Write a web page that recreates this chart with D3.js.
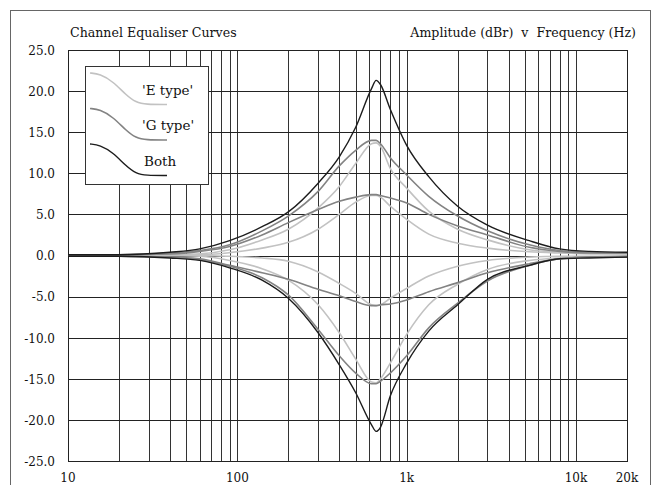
<!DOCTYPE html>
<html lang="en">
<head>
<meta charset="utf-8">
<script src="https://d3js.org/d3.v7.min.js"></script>
<style type="text/css">

body {
	margin: 0;
	background-color: #ffffff;
}

svg text {
	font-family: "DejaVu Serif", "Liberation Serif", serif;
	fill: #111;
}

</style>
</head>
<body>
<script type="text/javascript">

var width = 657;
var height = 485;

// frequencies (Hz) the curves were read at
var freq = [10, 20, 40, 60, 90, 140, 200, 300, 400, 500, 620, 660, 700, 800, 1000, 1350, 2000, 3000, 5300, 8000, 12000, 20000];

// amplitude (dBr) per curve
var eUpHi = [0, 0, 0.1, 0.2, 0.7, 1.9, 3.2, 5.8, 8.4, 11.2, 13.6, 13.7, 13.3, 10.6, 8.2, 5.4, 3.2, 1.9, 0.7, 0.4, 0.3, 0.2];
var eUpLo = [0, 0, 0.1, 0.1, 0.35, 0.9, 1.6, 3.2, 5.0, 6.5, 7.3, 7.3, 7.1, 6.0, 4.4, 2.6, 1.5, 0.9, 0.45, 0.3, 0.2, 0.2];
var eDnHi = [0, 0, 0, -0.1, -0.6, -1.6, -3.0, -6.0, -9.4, -12.6, -15.4, -15.5, -15.0, -13.1, -9.6, -6.0, -3.5, -1.7, -0.6, -0.3, -0.2, -0.1];
var eDnLo = [0, 0, 0, 0, -0.1, -0.3, -0.7, -2.0, -3.4, -4.6, -6.0, -6.1, -6.0, -5.2, -4.0, -2.5, -1.3, -0.6, -0.2, -0.1, -0.1, -0.1];

var gUpHi = [0.1, 0.1, 0.3, 0.6, 1.3, 3.0, 4.8, 7.8, 10.9, 12.8, 14.0, 14.0, 13.6, 11.9, 9.8, 7.2, 4.8, 3.0, 1.3, 0.6, 0.4, 0.3];
var gUpLo = [0.1, 0.1, 0.2, 0.5, 1.1, 2.5, 4.0, 5.6, 6.6, 7.1, 7.4, 7.4, 7.3, 7.0, 6.4, 5.0, 3.6, 2.5, 1.0, 0.5, 0.3, 0.3];
var gDnHi = [-0.1, -0.1, -0.2, -0.5, -1.3, -2.7, -4.8, -9.0, -12.2, -14.3, -15.6, -15.6, -15.3, -14.3, -12.2, -8.8, -5.8, -3.1, -1.2, -0.4, -0.2, -0.2];
var gDnLo = [0, -0.1, -0.2, -0.4, -1.2, -2.1, -2.9, -4.1, -4.9, -5.6, -6.1, -6.1, -6.0, -5.9, -5.4, -4.4, -3.3, -2.1, -1.0, -0.4, -0.2, -0.1];

var bothUp = [0.1, 0.1, 0.4, 0.8, 1.8, 3.5, 5.3, 8.8, 12.0, 15.6, 20.3, 21.3, 20.8, 17.8, 13.4, 9.6, 6.0, 3.7, 1.8, 0.8, 0.5, 0.4];
var bothDn = [-0.1, -0.1, -0.3, -0.6, -1.5, -3.0, -5.2, -9.4, -13.3, -16.7, -20.6, -21.4, -20.9, -17.1, -13.1, -9.2, -6.0, -2.9, -1.2, -0.4, -0.3, -0.2];

var legendNames = ["'E type'", "'G type'", "Both"];
var colors = ["#c2c2c2", "#838383", "#1c1c1c"];

var xTickVals = [10, 100, 1000, 10000, 20000];
var xTickText = ["10", "100", "1k", "10k", "20k"];

var series = [
  {vals: eUpHi, c: 0}, {vals: eUpLo, c: 0}, {vals: eDnHi, c: 0}, {vals: eDnLo, c: 0},
  {vals: gUpHi, c: 1}, {vals: gUpLo, c: 1}, {vals: gDnHi, c: 1}, {vals: gDnLo, c: 1},
  {vals: bothUp, c: 2}, {vals: bothDn, c: 2}
];

var svg = d3.select("body")
  .append("svg")
  .attr("width", width)
  .attr("height", height);

// outer frame
svg.append("rect")
  .attr("x", 10.5)
  .attr("y", 10.5)
  .attr("width", 640)
  .attr("height", 490)
  .attr("fill", "none")
  .attr("stroke", "#666")
  .attr("stroke-width", 1);

var x = d3.scaleLog().domain([10, 20000]).range([68, 627]);
var y = d3.scaleLinear().domain([-25, 25]).range([461, 50]);

// grid
var grid = svg.append("g").attr("shape-rendering", "crispEdges");

grid.selectAll(".vline")
  .data(x.ticks().filter(function(d) { return d > 10 && d < 20000; }))
  .enter().append("line")
  .attr("x1", function(d) { return Math.round(x(d)) + 0.5; })
  .attr("x2", function(d) { return Math.round(x(d)) + 0.5; })
  .attr("y1", y(25))
  .attr("y2", y(-25))
  .attr("stroke", "#333");

grid.selectAll(".hline")
  .data(y.ticks(10))
  .enter().append("line")
  .attr("x1", x(10))
  .attr("x2", x(20000))
  .attr("y1", function(d) { return Math.round(y(d)) + 0.5; })
  .attr("y2", function(d) { return Math.round(y(d)) + 0.5; })
  .attr("stroke", "#222");

grid.append("rect")
  .attr("x", x(10) + 0.5)
  .attr("y", y(25) + 0.5)
  .attr("width", x(20000) - x(10))
  .attr("height", y(-25) - y(25))
  .attr("fill", "none")
  .attr("stroke", "#222");

// axis labels
svg.selectAll(".ylab")
  .data(y.ticks(10))
  .enter().append("text")
  .attr("x", 55)
  .attr("y", function(d) { return y(d); })
  .attr("dy", "0.4em")
  .attr("text-anchor", "end")
  .style("font-size", "12px")
  .text(function(d) { return d3.format(".1f")(d).replace("\u2212", "-"); });

svg.selectAll(".xlab")
  .data(xTickVals)
  .enter().append("text")
  .attr("x", function(d) { return x(d); })
  .attr("y", 482)
  .attr("text-anchor", "middle")
  .style("font-size", "12px")
  .text(function(d, i) { return xTickText[i]; });

svg.append("text")
  .attr("x", 70)
  .attr("y", 37)
  .style("font-size", "12.6px")
  .text("Channel Equaliser Curves");

svg.append("text")
  .attr("x", 636)
  .attr("y", 37)
  .attr("text-anchor", "end")
  .style("font-size", "12.6px")
  .style("white-space", "pre")
  .text("Amplitude (dBr)  v  Frequency (Hz)");

// curves
var line = d3.line()
  .x(function(d, i) { return x(freq[i]); })
  .y(function(d) { return y(d); })
  .curve(d3.curveMonotoneX);

svg.selectAll(".curve")
  .data(series)
  .enter().append("path")
  .attr("d", function(d) { return line(d.vals); })
  .attr("fill", "none")
  .attr("stroke", function(d) { return colors[d.c]; })
  .attr("stroke-width", function(d) { return d.c == 2 ? 1.4 : 1.6; });

// legend
var legend = svg.append("g").attr("transform", "translate(85,66)");

legend.append("rect")
  .attr("x", 0.5)
  .attr("y", 0.5)
  .attr("width", 123)
  .attr("height", 118)
  .attr("fill", "#fff")
  .attr("stroke", "#333");

var sample = [[5, 7], [15, 8], [28, 15.5], [41, 29], [51, 36.5], [61, 38.5], [82, 38.5]];
var sampleLine = d3.line().curve(d3.curveBasis);

legendNames.forEach(function(name, i) {
  var g = legend.append("g").attr("transform", "translate(0," + (i * 35.5) + ")");
  g.append("path")
    .attr("d", sampleLine(sample))
    .attr("fill", "none")
    .attr("stroke", colors[i])
    .attr("stroke-width", i == 2 ? 1.4 : 1.6);
  g.append("text")
    .attr("x", name == "Both" ? 59 : 57)
    .attr("y", 28.5)
    .style("font-size", "13.5px")
    .text(name);
});

</script>
</body>
</html>
